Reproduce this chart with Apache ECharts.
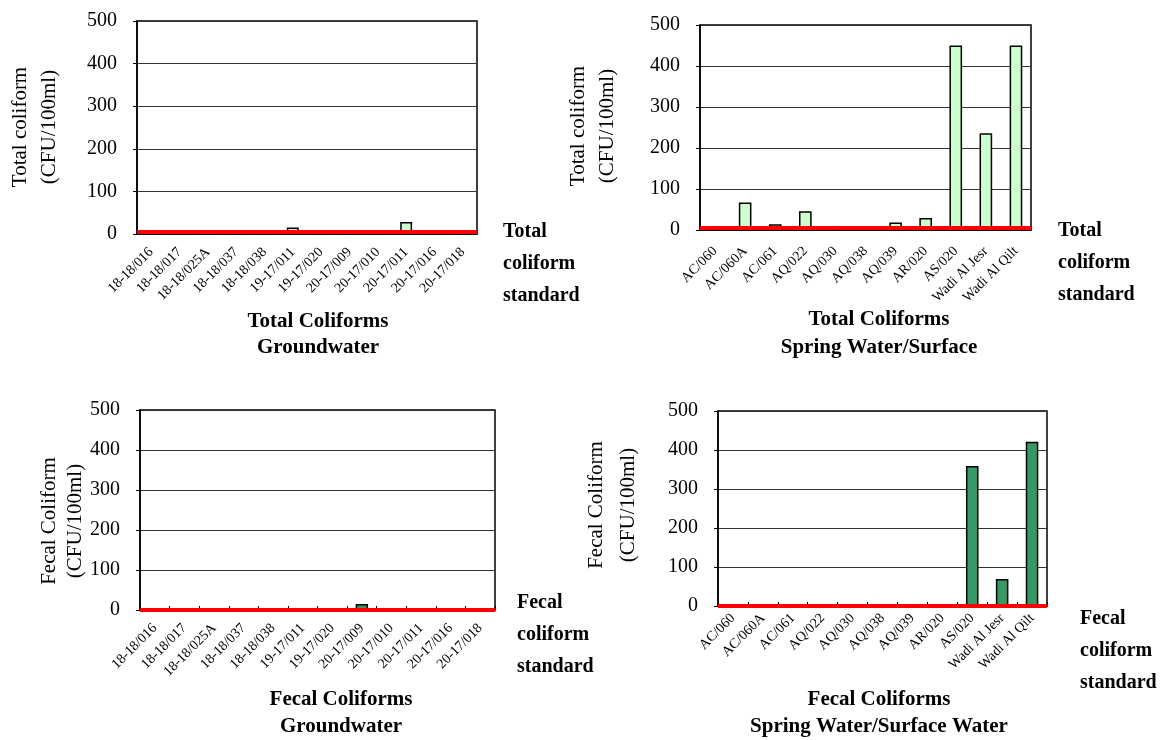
<!DOCTYPE html>
<html>
<head>
<meta charset="utf-8">
<script src="https://cdn.jsdelivr.net/npm/echarts@6/dist/echarts.min.js"></script>
<style>html,body{margin:0;padding:0;background:#fff}#c{width:1161px;height:740px}</style>
</head>
<body>
<div id="c"></div>
<script>
// ---- data ----
const gwCategories = ['18-18/016','18-18/017','18-18/025A','18-18/037','18-18/038','19-17/011','19-17/020','20-17/009','20-17/010','20-17/011','20-17/016','20-17/018'];
const springCategories = ['AC/060','AC/060A','AC/061','AQ/022','AQ/030','AQ/038','AQ/039','AR/020','AS/020','Wadi Al Jesr','Wadi Al Qilt'];
const totalGw = [0, 2, 0, 0, 2, 15, 2, 0, 2, 28, 2, 0];
const totalSpring = [0, 67, 14, 46, 2, 9, 18, 29, 450, 236, 450];
const fecalGw = [0, 0, 0, 0, 0, 0, 0, 15, 0, 0, 0, 0];
const fecalSpring = [0, 0, 0, 0, 0, 0, 0, 0, 359, 69, 421];
const totalStandard = 5;
const fecalStandard = 0;
const yTicks = [0, 100, 200, 300, 400, 500];

const FONT = '"Liberation Serif","Times New Roman",serif';
const grids = [
  {left:137, top:21, width:340, height:213},
  {left:700, top:25, width:331, height:205},
  {left:140, top:410, width:355, height:200},
  {left:718, top:411, width:329, height:195}
].map(g => Object.assign({show:true, borderColor:'#000', borderWidth:1.5, backgroundColor:'#fff'}, g));

const cats = [gwCategories, springCategories, gwCategories, springCategories];
const labelMargins = [16, 19, 16, 10];
const xAxes = cats.map((c, i) => ({
  type:'category', gridIndex:i, data:c,
  axisLine:{lineStyle:{color:'#000', width:1.5}},
  axisTick:{show:true, inside:true, length:4, lineStyle:{color:'#000'}},
  axisLabel:{rotate:45, fontFamily:FONT, fontSize:14, color:'#000', interval:0, margin:labelMargins[i]}
}));
const yAxes = [0,1,2,3].map(i => ({
  type:'value', gridIndex:i, min:yTicks[0], max:yTicks[yTicks.length-1], interval:100,
  axisLine:{show:true, lineStyle:{color:'#000', width:1.5}},
  axisTick:{show:true, length:4, lineStyle:{color:'#000'}},
  splitLine:{show:true, lineStyle:{color:'#333', width:1}},
  axisLabel:{fontFamily:FONT, fontSize:20, color:'#000', margin:20}
}));

function barSeries(i, data, color, std) {
  return {
    type:'bar', xAxisIndex:i, yAxisIndex:i, data:data, barWidth:'42%',
    itemStyle:{color:color, borderColor:'#000', borderWidth:1.5},
    markLine:{silent:true, symbol:['none','none'], label:{show:false},
      lineStyle:{color:'#ff0000', width:4, type:'solid'},
      data:[{yAxis:std}]}
  };
}

const LIGHT = '#ccffcc', DARK = '#339966';
const series = [
  barSeries(0, totalGw, LIGHT, totalStandard),
  barSeries(1, totalSpring, LIGHT, totalStandard),
  barSeries(2, fecalGw, DARK, fecalStandard),
  barSeries(3, fecalSpring, DARK, fecalStandard)
];

function txt(x, y, text, opts) {
  return Object.assign({type:'text', x:x, y:y, silent:true,
    style:{text:text, fill:'#000', font:opts.font, align:opts.align||'center', verticalAlign:'middle', lineHeight:opts.lh}
  }, opts.rotation ? {rotation:opts.rotation} : {});
}
const yTitleFont = '21px ' + FONT;
const titleFont = 'bold 21px ' + FONT;
const stdFont = 'bold 20px ' + FONT;
const R = Math.PI/2;
const graphic = [
  txt(35, 127, 'Total coliform\n(CFU/100ml)', {font:yTitleFont, lh:29, rotation:R}),
  txt(593, 126, 'Total coliform\n(CFU/100ml)', {font:yTitleFont, lh:29, rotation:R}),
  txt(62, 521, 'Fecal Coliform\n(CFU/100ml)', {font:yTitleFont, lh:26, rotation:R}),
  txt(612, 505, 'Fecal Coliform\n(CFU/100ml)', {font:yTitleFont, lh:32, rotation:R}),
  txt(318, 335, 'Total Coliforms\nGroundwater', {font:titleFont, lh:26}),
  txt(879, 334, 'Total Coliforms\nSpring Water/Surface', {font:titleFont, lh:28}),
  txt(341, 713, 'Fecal Coliforms\nGroundwater', {font:titleFont, lh:27}),
  txt(879, 713, 'Fecal Coliforms\nSpring Water/Surface Water', {font:titleFont, lh:27}),
  txt(503, 264, 'Total\ncoliform\nstandard', {font:stdFont, lh:32, align:'left'}),
  txt(1058, 263, 'Total\ncoliform\nstandard', {font:stdFont, lh:32, align:'left'}),
  txt(517, 635, 'Fecal\ncoliform\nstandard', {font:stdFont, lh:32, align:'left'}),
  txt(1080, 651, 'Fecal\ncoliform\nstandard', {font:stdFont, lh:32, align:'left'})
];

const chart = echarts.init(document.getElementById('c'));
chart.setOption({
  animation:false, backgroundColor:'#fff',
  grid:grids, xAxis:xAxes, yAxis:yAxes, series:series, graphic:graphic
});
</script>
</body>
</html>
